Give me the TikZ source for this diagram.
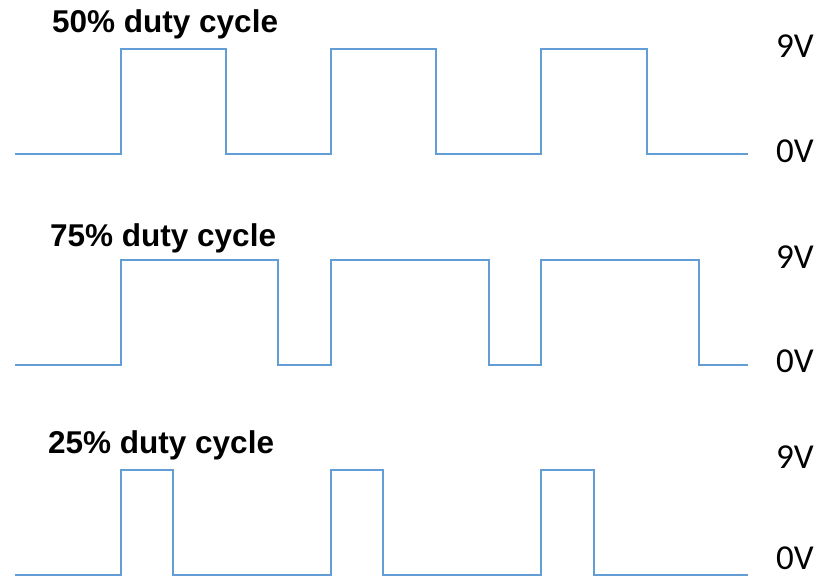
\documentclass[tikz,border=0pt]{standalone}
\usepackage{fontspec}
\setmainfont{Liberation Sans}
\newfontfamily\voltfont{Carlito}
\usetikzlibrary{positioning}

\tikzset{
  wave/.style={line width=2.8pt, color=waveblue, line join=miter},
  duty/.style={inner sep=0pt, anchor=base west, font=\fontsize{31.5pt}{31.5pt}\selectfont\bfseries},
  volt/.style={inner sep=0pt, anchor=base west, font=\fontsize{35pt}{35pt}\voltfont},
}
\definecolor{waveblue}{RGB}{98,157,214}

\begin{document}
\begin{tikzpicture}
\useasboundingbox (0pt, 0pt) rectangle (818pt, -577pt);
% labels
\node (d50) [duty] at (52pt, -33pt) {50\% duty cycle};
\node (d75) [duty] at (50pt, -247pt) {75\% duty cycle};
\node (d25) [duty] at (48pt, -453pt) {25\% duty cycle};
\node (h1) [volt] at (776pt, -58pt) {9V};
\node (l1) [volt] at (776pt, -163pt) {0V};
\node (h2) [volt] at (776pt, -268pt) {9V};
\node (l2) [volt] at (776pt, -372pt) {0V};
\node (h3) [volt] at (776pt, -468pt) {9V};
\node (l3) [volt] at (776pt, -569pt) {0V};
% waveforms
\draw [wave] (15pt, -154pt) -- (121pt, -154pt) -- (121pt, -49pt) -- (226pt, -49pt) -- (226pt, -154pt) -- (331pt, -154pt) -- (331pt, -49pt) -- (436pt, -49pt) -- (436pt, -154pt) -- (541pt, -154pt) -- (541pt, -49pt) -- (647pt, -49pt) -- (647pt, -154pt) -- (748pt, -154pt);
\draw [wave] (15pt, -365pt) -- (121pt, -365pt) -- (121pt, -260pt) -- (278pt, -260pt) -- (278pt, -365pt) -- (331pt, -365pt) -- (331pt, -260pt) -- (489pt, -260pt) -- (489pt, -365pt) -- (541pt, -365pt) -- (541pt, -260pt) -- (699pt, -260pt) -- (699pt, -365pt) -- (748pt, -365pt);
\draw [wave] (15pt, -575pt) -- (121pt, -575pt) -- (121pt, -470pt) -- (173pt, -470pt) -- (173pt, -575pt) -- (331pt, -575pt) -- (331pt, -470pt) -- (383pt, -470pt) -- (383pt, -575pt) -- (541pt, -575pt) -- (541pt, -470pt) -- (594pt, -470pt) -- (594pt, -575pt) -- (748pt, -575pt);
\end{tikzpicture}
\end{document}
